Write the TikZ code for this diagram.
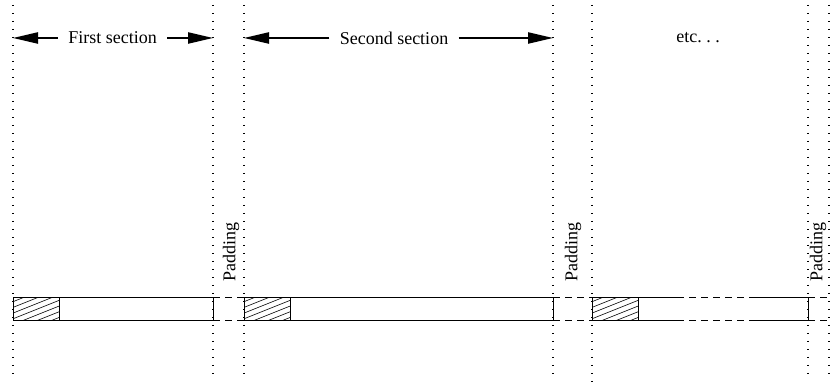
\documentclass[tikz,border=0pt]{standalone}
\usepackage{fontspec}
\setmainfont{Liberation Serif}
\usetikzlibrary{arrows.meta}
\begin{document}
\begin{tikzpicture}[x=0.5pt,y=-0.5pt,
  every node/.style={font=\fontsize{9}{11}\selectfont, inner sep=0pt},
  guide/.style={line width=0.6pt, dash pattern=on 0.6pt off 3.4pt},
  barline/.style={line width=0.5pt},
  gapline/.style={line width=0.5pt, dash pattern=on 3.5pt off 2.5pt},
  hatch/.style={line width=0.3pt},
  span/.style={line width=0.8pt, -{Triangle[length=12.5pt,width=5.6pt]}},
  lbl/.style={inner xsep=5pt},
  padlbl/.style={rotate=90}]
\useasboundingbox (0,0) rectangle (831,383);

% vertical guide lines at section boundaries
\foreach \n/\x/\yb in {a/13/374, b/213/374, c/244/374, d/553/374, e/592/382, f/808/375, g/829/375}{
  \coordinate (\n top) at (\x,5);
  \coordinate (\n bot) at (\x,\yb);
  \draw[guide] (\n top) -- (\n bot);
}

% section labels with span arrows
\node[lbl] (first) at (112.5,38) {First section};
\node[lbl] (second) at (394,38) {Second section};
\node (etc) at (698,38) {etc.\ .\ .};
\draw[span] (first.west) -- (first.west -| atop);
\draw[span] (first.east) -- (first.east -| btop);
\draw[span] (second.west) -- (second.west -| ctop);
\draw[span] (second.east) -- (second.east -| dtop);

% padding labels
\node[padlbl] (pad1) at (231,252) {Padding};
\node[padlbl] (pad2) at (573,252) {Padding};
\node[padlbl] (pad3) at (818,252) {Padding};

% hatched header blocks
\foreach \x in {13,244,592}{
  \begin{scope}
    \clip (\x,298) rectangle (\x+46,321);
    \foreach \k in {0,...,12}{
      \draw[hatch] (\x-5,298+\k*5.7) -- (\x+60,298+\k*5.7-26);
    }
  \end{scope}
  \draw[barline] (\x,298) rectangle (\x+46,321);
}

% the memory bar
\draw[barline] (13,298) -- (213,298) -- (213,321) -- (13,321);
\draw[gapline] (213,298) -- (244,298) (213,321) -- (244,321);
\draw[barline] (244,298) -- (553,298) -- (553,321) -- (244,321);
\draw[gapline] (553,298) -- (592,298) (553,321) -- (592,321);
\draw[barline] (592,298) -- (677,298) (592,321) -- (677,321);
\draw[gapline] (677,298) -- (753,298) (677,321) -- (753,321);
\draw[barline] (753,298) -- (808,298) -- (808,321) -- (753,321);
\draw[gapline] (808,298) -- (831,298) (808,321) -- (831,321);
\end{tikzpicture}
\end{document}
